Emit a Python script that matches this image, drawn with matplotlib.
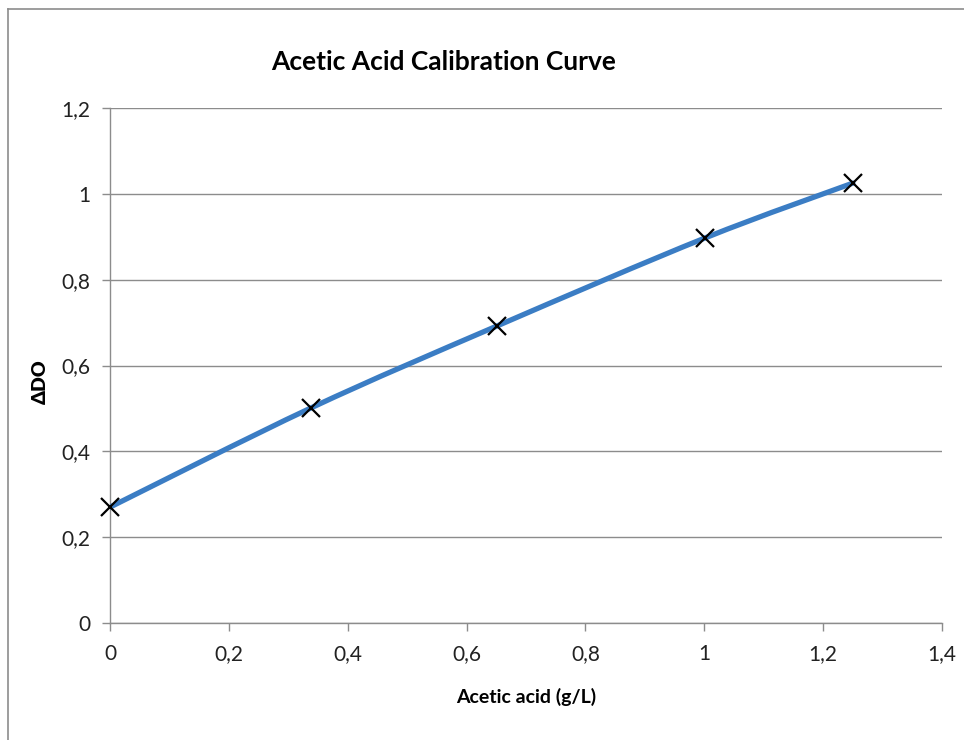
import matplotlib
matplotlib.use("Agg")
import matplotlib.pyplot as plt
from matplotlib.path import Path
from matplotlib.patches import PathPatch
from matplotlib.lines import Line2D
from matplotlib.ticker import FuncFormatter
import numpy as np

plt.rcParams['font.family'] = ['Lato', 'DejaVu Sans']

acetic_acid = [0.0, 0.338, 0.651, 1.001, 1.250]
delta_do = [0.270, 0.501, 0.692, 0.897, 1.025]

x_ticks = [0, 0.2, 0.4, 0.6, 0.8, 1.0, 1.2, 1.4]
y_ticks = [0, 0.2, 0.4, 0.6, 0.8, 1.0, 1.2]

W, H = 964, 740
fig = plt.figure(figsize=(W / 100, H / 100), dpi=100)
ax = fig.add_axes([110 / W, 1 - 623 / H, (942 - 110) / W, (623 - 108) / H])

# Smoothed line (Excel-like Bezier through points)
px = np.array(acetic_acid)
py = np.array(delta_do)
verts = [(px[0], py[0])]
codes = [Path.MOVETO]
n = len(px)
for i in range(n - 1):
    p0 = np.array([px[max(i - 1, 0)], py[max(i - 1, 0)]])
    p1 = np.array([px[i], py[i]])
    p2 = np.array([px[i + 1], py[i + 1]])
    p3 = np.array([px[min(i + 2, n - 1)], py[min(i + 2, n - 1)]])
    c1 = p1 + (p2 - p0) / 6
    c2 = p2 - (p3 - p1) / 6
    verts += [tuple(c1), tuple(c2), tuple(p2)]
    codes += [Path.CURVE4] * 3
patch = PathPatch(Path(verts, codes), facecolor='none', edgecolor='#3b7dc4',
                  lw=3.8, capstyle='round', zorder=3)
ax.add_patch(patch)
ax.plot(acetic_acid, delta_do, linestyle='none', marker='x', color='black',
        markersize=13, markeredgewidth=1.6, zorder=4, clip_on=False)

ax.set_xlim(0, 1.4)
ax.set_ylim(0, 1.2)
ax.set_xticks(x_ticks)
ax.set_yticks(y_ticks)
fmt = FuncFormatter(lambda v, p: ('%g' % round(v, 2)).replace('.', ','))
ax.xaxis.set_major_formatter(fmt)
ax.yaxis.set_major_formatter(fmt)
ax.tick_params(axis='both', direction='out', length=6, width=1, color='#8c8c8c',
               labelsize=15, labelcolor='#222222')
ax.tick_params(axis='x', pad=9)
ax.tick_params(axis='y', pad=8)
ax.grid(axis='y', color='#8c8c8c', lw=1)
ax.set_axisbelow(True)
for s in ['top', 'right']:
    ax.spines[s].set_visible(False)
for s in ['left', 'bottom']:
    ax.spines[s].set_color('#8c8c8c')
    ax.spines[s].set_linewidth(1)

fig.text(444 / W, 1 - 62 / H, 'Acetic Acid Calibration Curve', ha='center', va='center',
         fontsize=19, fontweight='bold', color='black')
fig.text(526 / W, 1 - 697 / H, 'Acetic acid (g/L)', ha='center', va='center',
         fontsize=14, fontweight='bold', color='black')
fig.text(40 / W, 1 - 382 / H, 'ΔDO', ha='center', va='center', rotation=90,
         fontsize=14, fontweight='heavy', color='black')

# chart area border (left and top)
fig.add_artist(Line2D([8 / W, 8 / W], [0, 1 - 9 / H], transform=fig.transFigure,
                      color='#8c8c8c', lw=1.2))
fig.add_artist(Line2D([8 / W, 1], [1 - 9 / H, 1 - 9 / H], transform=fig.transFigure,
                      color='#8c8c8c', lw=1.2))

fig.savefig('out.png', dpi=100)
